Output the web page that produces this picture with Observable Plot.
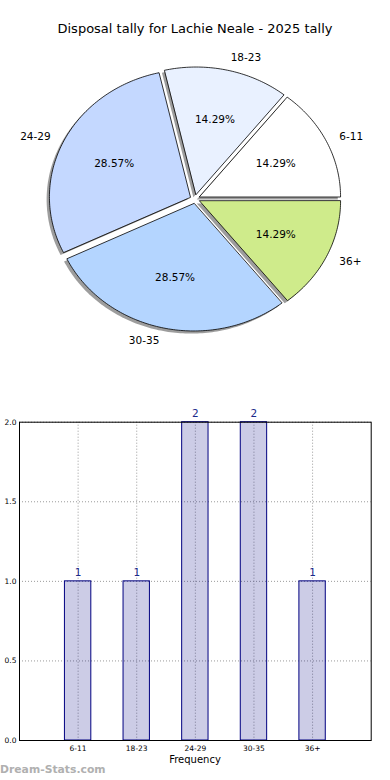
<!DOCTYPE html>
<html><head><meta charset="utf-8">
<script src="https://cdn.jsdelivr.net/npm/d3@7"></script>
<script src="https://cdn.jsdelivr.net/npm/@observablehq/plot@0.6"></script>
<style>
body{margin:0;background:#fff;font-family:"DejaVu Sans",sans-serif;}
#wrap{position:relative;width:390px;height:780px;overflow:hidden;background:#fff;}
#title{position:absolute;top:21px;left:0;width:390px;text-align:center;font-size:13px;color:#000;}
#pie{position:absolute;top:0;left:0;}
#bar{position:absolute;top:400px;left:0;}
#xlab{position:absolute;top:754px;left:0;width:390px;text-align:center;font-size:10px;color:#000;}
#wm{position:absolute;left:0;top:763px;font-size:10.8px;font-weight:bold;color:#b0b0b0;}
</style></head>
<body><div id="wrap"><div id="pie"></div><div id="title"></div><div id="bar"></div><div id="xlab"></div><div id="wm"></div></div>
<script>
const categories = ["6-11","18-23","24-29","30-35","36+"];
const counts = [1, 1, 2, 2, 1];
const sliceColors = ["#ffffff","#e9f1ff","#c4d8ff","#b4d5ff","#cfeb8b"];
const yTicks = [0, 0.5, 1, 1.5, 2];
const titleText = "Disposal tally for Lachie Neale - 2025 tally";
const xLabelText = "Frequency";
const watermark = "Dream-Stats.com";

document.getElementById("title").textContent = titleText;
document.getElementById("xlab").textContent = xLabelText;
document.getElementById("wm").textContent = watermark;

// ---- pie geometry (unit circle in data space; scales make it elliptical)
const explode = 0.036, labelDist = 1.1, pctDist = 0.6;
const total = d3.sum(counts);
const rad = Math.PI / 180;
let start = 0;
const slices = categories.map((c, i) => {
  const t1 = start, t2 = start + 360 * counts[i] / total;
  start = t2;
  const mid = (t1 + t2) / 2;
  return {cat: c, i, t1, t2, mid, ox: explode * Math.cos(mid * rad), oy: explode * Math.sin(mid * rad), color: sliceColors[i], pct: 100 * counts[i] / total};
});
const wedgePts = [];
for (const s of slices) {
  wedgePts.push({cat: s.cat, color: s.color, x: s.ox, y: s.oy});
  const n = Math.ceil((s.t2 - s.t1) / 1);
  for (let k = 0; k <= n; k++) {
    const a = (s.t1 + (s.t2 - s.t1) * k / n) * rad;
    wedgePts.push({cat: s.cat, color: s.color, x: s.ox + Math.cos(a), y: s.oy + Math.sin(a)});
  }
}
const labels = slices.map(s => ({
  text: s.cat,
  x: s.ox + labelDist * Math.cos(s.mid * rad),
  y: s.oy + labelDist * Math.sin(s.mid * rad)
}));
const pcts = slices.map(s => ({
  text: d3.format(".2f")(s.pct) + "%",
  x: s.ox + pctDist * Math.cos(s.mid * rad),
  y: s.oy + pctDist * Math.sin(s.mid * rad)
}));

const cx = 194.5, cy = 198.5, rx = 141, ry = 127.5, pieW = 390, pieH = 400;
const pie = Plot.plot({
  width: pieW, height: pieH, margin: 0,
  style: {fontFamily: "DejaVu Sans", background: "transparent"},
  x: {domain: [-cx / rx, (pieW - cx) / rx], axis: null},
  y: {domain: [-(pieH - cy) / ry, cy / ry], axis: null},
  color: {type: "identity"},
  marks: [
    Plot.line(wedgePts, {x: "x", y: "y", z: "cat", fill: "#4d4d4d", fillOpacity: 0.55, stroke: "none", curve: "linear-closed", dx: -2.8, dy: 2.6}),
    Plot.line(wedgePts, {x: "x", y: "y", z: "cat", fill: "color", stroke: "#000", strokeWidth: 0.8, curve: "linear-closed"}),
    Plot.text(labels.filter(d => d.x > 0), {x: "x", y: "y", text: "text", textAnchor: "start", fontSize: 10.5, fill: "#000"}),
    Plot.text(labels.filter(d => d.x <= 0), {x: "x", y: "y", text: "text", textAnchor: "end", fontSize: 10.5, fill: "#000"}),
    Plot.text(pcts, {x: "x", y: "y", text: "text", fontSize: 10.5, fill: "#000"})
  ]
});
document.getElementById("pie").appendChild(pie);

// ---- bar chart
const barData = categories.map((c, i) => ({cat: c, i, count: counts[i]}));
const halfW = 0.225;
const bar = Plot.plot({
  width: 390, height: 380,
  marginLeft: 19, marginRight: 19.3, marginTop: 21.7, marginBottom: 40,
  style: {fontFamily: "DejaVu Sans", background: "transparent"},
  x: {type: "linear", domain: [-1, 5]},
  y: {domain: [0, 2]},
  marks: [
    Plot.gridY(yTicks, {stroke: "#9a9a9a", strokeOpacity: 1, strokeDasharray: "1,2"}),
    Plot.gridX(d3.range(categories.length), {stroke: "#9a9a9a", strokeOpacity: 1, strokeDasharray: "1,2"}),
    Plot.rectY(barData, {x1: d => d.i - halfW, x2: d => d.i + halfW, y: "count", fill: "#000080", fillOpacity: 0.2, stroke: "#000080", strokeWidth: 1}),
    Plot.text(barData, {x: "i", y: "count", text: d => String(d.count), dy: -8.5, fill: "#1c2a8a", fontSize: 10.5}),
    Plot.frame({stroke: "#000", strokeWidth: 1}),
    Plot.axisY(yTicks, {tickFormat: d3.format(".1f"), tickSize: 0, tickPadding: 3, fontSize: 7.5, label: null}),
    Plot.axisX(d3.range(categories.length), {tickFormat: i => categories[i], tickSize: 0, tickPadding: 5, fontSize: 7.5, label: null})
  ]
});
document.getElementById("bar").appendChild(bar);
</script>
</body></html>
